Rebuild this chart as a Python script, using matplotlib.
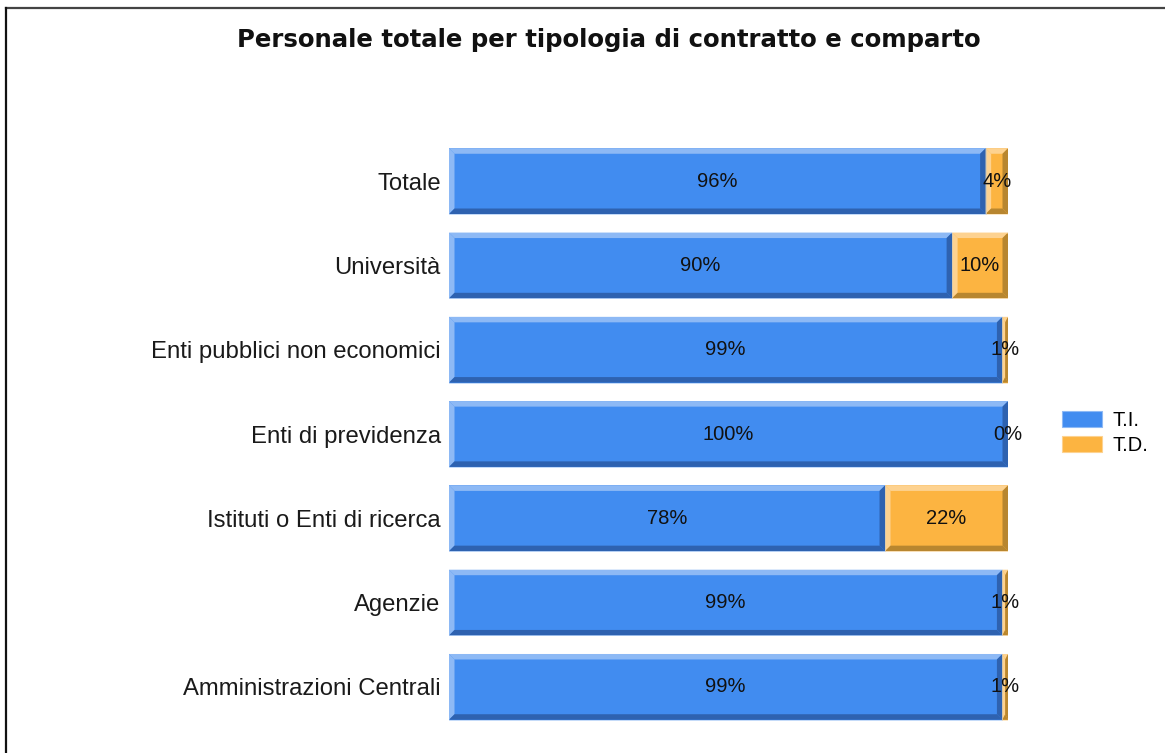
import matplotlib.pyplot as plt
from matplotlib.patches import Polygon, Patch
from matplotlib.lines import Line2D

# Share of permanent (T.I.) and fixed-term (T.D.) staff per sector, in percent
categories = ['Totale', 'Università', 'Enti pubblici non economici',
              'Enti di previdenza', 'Istituti o Enti di ricerca',
              'Agenzie', 'Amministrazioni Centrali']
ti_values = [96, 90, 99, 100, 78, 99, 99]
td_values = [4, 10, 1, 0, 22, 1, 1]
series_names = ['T.I.', 'T.D.']

# main / light edge / dark edge colours for each series
palette = {
    'T.I.': ('#418CF0', '#8DB9F5', '#2E62B0'),
    'T.D.': ('#FCB441', '#FDD290', '#B8862F'),
}

W, H, DPI = 1165, 753, 100
fig = plt.figure(figsize=(W / DPI, H / DPI), dpi=DPI, facecolor='white')
ax = fig.add_axes([449 / W, 1 - 729 / H, (1008 - 449) / W, (729 - 139) / H])

ax.set_xlim(0, 100)
ax.set_ylim(len(categories) - 0.5, -0.5)
for s in ax.spines.values():
    s.set_visible(False)
ax.set_xticks([])

bar_h = 0.78
px_x = 100 / (1008 - 449)      # data units per pixel, x
px_y = 7 / (729 - 139)         # data units per pixel, y


def bevel(x0, y0, w, h, light, dark, t=5.5):
    """Draw lighter top/left and darker bottom/right edges on a bar."""
    tx = min(t * px_x, w / 2)
    ty = min(t * px_y, h / 2)
    x1, y1 = x0 + w, y0 + h   # y grows downwards (inverted axis)
    top = [(x0, y0), (x1, y0), (x1 - tx, y0 + ty), (x0 + tx, y0 + ty)]
    left = [(x0, y0), (x0 + tx, y0 + ty), (x0 + tx, y1 - ty), (x0, y1)]
    bottom = [(x0, y1), (x0 + tx, y1 - ty), (x1 - tx, y1 - ty), (x1, y1)]
    right = [(x1, y0), (x1, y1), (x1 - tx, y1 - ty), (x1 - tx, y0 + ty)]
    for pts, c in ((top, light), (left, light), (bottom, dark), (right, dark)):
        ax.add_patch(Polygon(pts, closed=True, facecolor=c, edgecolor='none', zorder=3))


ypos = list(range(len(categories)))
lefts = [0] * len(categories)
for name, vals in zip(series_names, [ti_values, td_values]):
    main, light, dark = palette[name]
    bars = ax.barh(ypos, vals, left=lefts, height=bar_h, color=main,
                   edgecolor='none', zorder=2)
    for b, v in zip(bars, vals):
        x0, yc, w, h = b.get_x(), b.get_y(), b.get_width(), b.get_height()
        if w > 0:
            bevel(x0, yc, w, h, light, dark)
            # thin pale outline
            ax.add_patch(plt.Rectangle((x0, yc), w, h, fill=False,
                                       edgecolor=light, lw=0.6, alpha=0.6, zorder=4))
        ax.text(x0 + w / 2, yc + h / 2, f'{v}%', ha='center', va='center',
                fontsize=14.5, family='Liberation Sans', color='#111111', zorder=5)
    lefts = [l + v for l, v in zip(lefts, vals)]

ax.set_yticks(ypos)
ax.set_yticklabels(categories, fontsize=17.2, family='Liberation Sans', color='#1a1a1a')
ax.tick_params(axis='y', length=0, pad=6)

# legend on the right
handles = [Patch(facecolor=palette[n][0], edgecolor=palette[n][1], lw=0.8, label=n)
           for n in series_names]
fig.legend(handles=handles, loc='center left', bbox_to_anchor=(1052 / W, 1 - 433 / H),
           bbox_transform=fig.transFigure, frameon=False, handlelength=2.0,
           handleheight=0.8, handletextpad=0.5, labelspacing=0.3, borderpad=0,
           prop={'family': 'Liberation Sans', 'size': 14.5})

fig.text(609 / W, 1 - 40 / H, 'Personale totale per tipologia di contratto e comparto',
         ha='center', va='center', fontsize=17.6, fontweight='bold',
         family='DejaVu Sans', color='#111111')

# frame lines along the top and left edges
fig.add_artist(Line2D([6 / W, 1.0], [1 - 8 / H, 1 - 8 / H], color='#444444', lw=1.6,
                      transform=fig.transFigure))
fig.add_artist(Line2D([6 / W, 6 / W], [0, 1 - 8 / H], color='#111111', lw=1.6,
                      transform=fig.transFigure))

fig.savefig('out.png', dpi=DPI, facecolor='white')
